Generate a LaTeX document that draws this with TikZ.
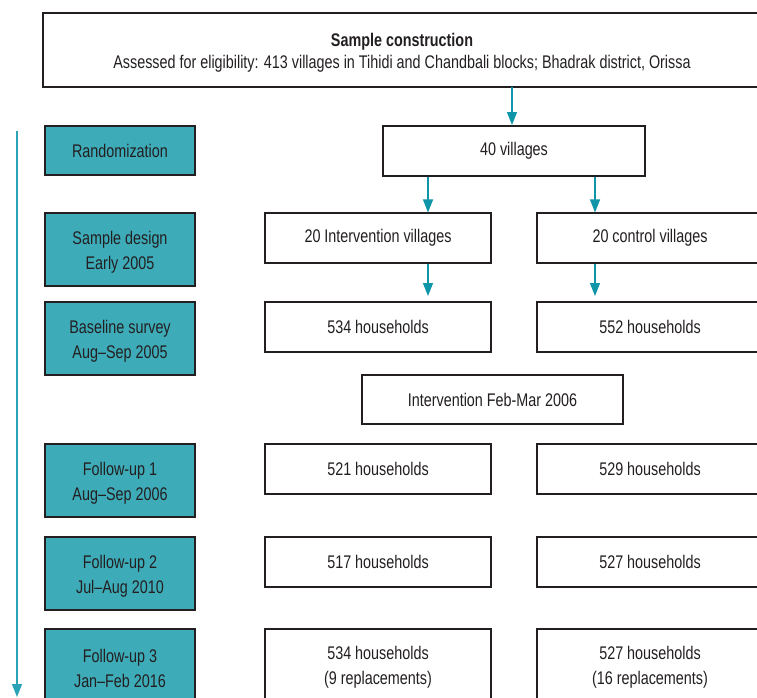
\documentclass[tikz,border=0pt]{standalone}
\usepackage{fontspec}
\setmainfont{Liberation Sans}[FakeStretch=0.785]
\usetikzlibrary{arrows.meta}
\definecolor{tealfill}{HTML}{3DABB8}
\definecolor{tealarrow}{HTML}{0E95A8}
\definecolor{tealline}{HTML}{2AA3B7}
\definecolor{ink}{HTML}{231F20}
\begin{document}
\begin{tikzpicture}[x=1pt,y=-1pt,
  every node/.style={font=\fontsize{18.3}{24.5}\selectfont, text=ink, align=center, inner sep=0pt},
  wbox/.style={draw=ink, line width=1.1pt, fill=white, minimum width=226pt, minimum height=50pt},
  tbox/.style={draw=ink, line width=1.1pt, fill=tealfill, minimum width=150pt},
  conn/.style={draw=tealarrow, line width=1.2pt, -{Triangle[width=10pt,length=13pt]}},
  tline/.style={draw=tealline, line width=1.4pt, -{Triangle[width=10pt,length=13pt]}}]
\useasboundingbox (0,0) rectangle (757,697);
\clip (0,0) rectangle (757,697);
% top box
\node[draw=ink, line width=1.1pt, minimum width=718pt, minimum height=74pt] (top) at (402,50) {};
\node[font=\fontsize{18.3}{22}\selectfont] (topt) at (402,53) {\textbf{Sample construction}\\Assessed for eligibility: 413 villages in Tihidi and Chandbali blocks; Bhadrak district, Orissa};
% left teal boxes
\node[tbox, minimum height=49pt] (rand) at (120,150.5) {Randomization};
\node[tbox, minimum height=73pt] (sd) at (120,249.5) {};
\node[tbox, minimum height=73pt] (bs) at (120,338.5) {};
\node[tbox, minimum height=73pt] (f1) at (120,480.5) {};
\node[tbox, minimum height=73pt] (f2) at (120,573.5) {};
\node[tbox, minimum height=73pt] (f3) at (120,665.5) {};
\node (sdt) at (120,252.5) {Sample design\\Early 2005};
\node (bst) at (120,341.5) {Baseline survey\\Aug--Sep 2005};
\node (f1t) at (120,483.5) {Follow-up 1\\Aug--Sep 2006};
\node (f2t) at (120,576.5) {Follow-up 2\\Jul--Aug 2010};
\node (f3t) at (120,668.5) {Follow-up 3\\Jan--Feb 2016};
% right boxes
\node[wbox, minimum width=262pt] (v40) at (514,151) {40 villages};
\node[wbox] (iv) at (378,238) {20 Intervention villages};
\node[wbox] (cv) at (650,238) {20 control villages};
\node[wbox] (ib) at (378,327) {534 households};
\node[wbox] (cb) at (650,327) {552 households};
\node[wbox, minimum width=261pt, minimum height=49pt] (int) at (492.5,399.5) {Intervention Feb-Mar 2006};
\node[wbox] (i1) at (378,469) {521 households};
\node[wbox] (c1) at (650,469) {529 households};
\node[wbox] (i2) at (378,562) {517 households};
\node[wbox] (c2) at (650,562) {527 households};
\node[wbox, minimum height=72pt] (i3) at (378,665) {};
\node[wbox, minimum height=72pt] (c3) at (650,665) {};
\node (i3t) at (378,667.5) {534 households\\(9 replacements)};
\node (c3t) at (650,667.5) {527 households\\(16 replacements)};
% connectors
\coordinate (a0) at (512,87);
\coordinate (a1) at (512,125);
\draw[conn] (a0) -- (a1);
\draw[conn] (v40.south -| 428,0) -- (iv.north -| 428,0);
\draw[conn] (v40.south -| 595,0) -- (cv.north -| 595,0);
\coordinate (b1) at (428,296);
\coordinate (b2) at (595,296);
\draw[conn] (iv.south -| b1) -- (b1);
\draw[conn] (cv.south -| b2) -- (b2);
% timeline
\coordinate (t0) at (17,131);
\coordinate (t1) at (17,697);
\draw[tline] (t0) -- (t1);
\end{tikzpicture}
\end{document}
